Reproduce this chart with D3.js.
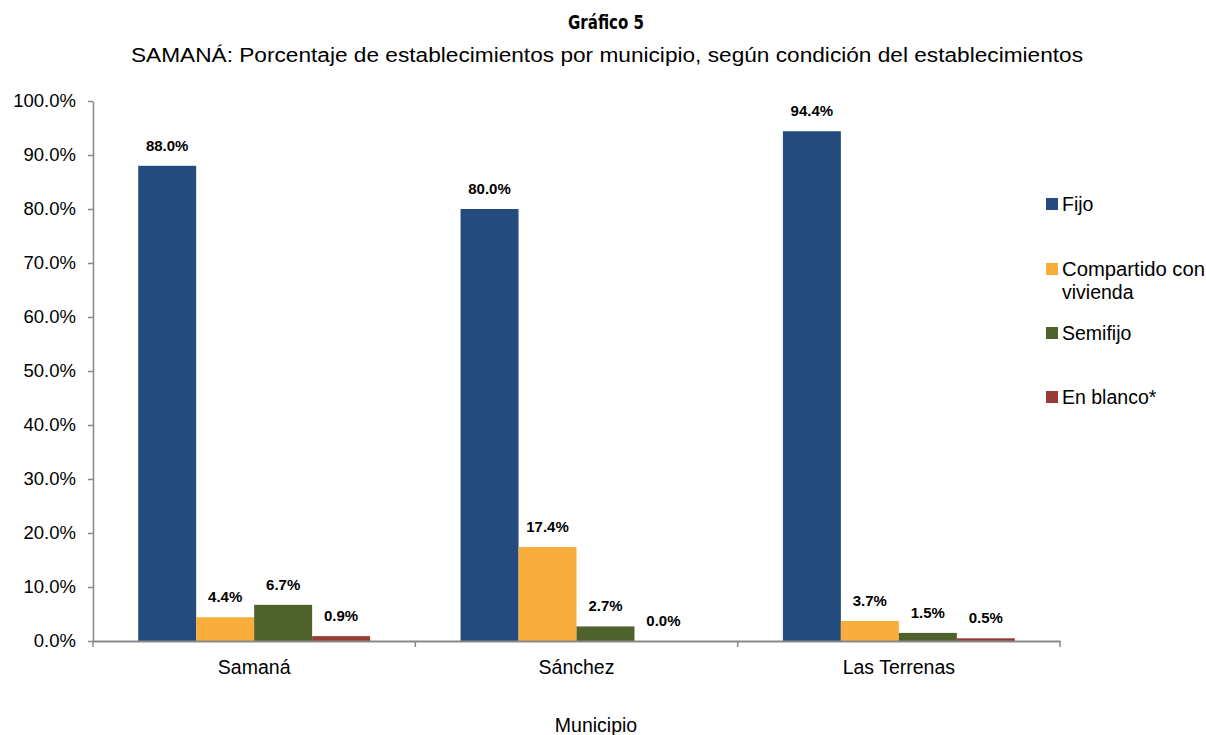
<!DOCTYPE html>
<html><head><meta charset="utf-8">
<script src="https://cdn.jsdelivr.net/npm/d3@7"></script>
<style>body{margin:0;background:#fff}svg{display:block}</style>
</head><body>
<svg id="c" width="1206" height="735"></svg>
<script>
const categories = ["Samaná","Sánchez","Las Terrenas"];
const seriesNames = ["Fijo","Compartido con vivienda","Semifijo","En blanco*"];
const fijo = [88.0, 80.0, 94.4];
const compartido = [4.4, 17.4, 3.7];
const semifijo = [6.7, 2.7, 1.5];
const enBlanco = [0.9, 0.0, 0.5];
const yTicks = [0,10,20,30,40,50,60,70,80,90,100];
const colors = ["#234B7D","#F9AE3B","#50622C","#973B37"];
const series = [fijo, compartido, semifijo, enBlanco];

const svg = d3.select("#c");
const font = "'Liberation Sans', Arial, sans-serif";
const L = 93, R = 1060, T = 101, B = 641;
const x = d3.scaleBand().domain(categories).range([L, R]).paddingInner(0).paddingOuter(0);
const x1 = d3.scaleBand().domain(seriesNames).range([0, x.bandwidth()]).paddingInner(0).paddingOuter(0.78);
const y = d3.scaleLinear().domain([0,100]).range([B, T]);

// title
svg.append("text").attr("x",606).attr("y",29).attr("text-anchor","middle")
  .attr("font-family","'DejaVu Sans Condensed','Liberation Sans Narrow',sans-serif").attr("font-weight","bold").attr("font-size",19)
  .attr("textLength",76).attr("lengthAdjust","spacingAndGlyphs").text("Gráfico 5");
svg.append("text").attr("x",607).attr("y",62).attr("text-anchor","middle")
  .attr("font-family",font).attr("font-size",20).attr("textLength",952).attr("lengthAdjust","spacingAndGlyphs")
  .text("SAMANÁ: Porcentaje de establecimientos por municipio, según condición del establecimientos");

// bars
categories.forEach((c,i)=>{
  series.forEach((s,j)=>{
    const v = s[i];
    svg.append("rect").attr("x", x(c)+x1(seriesNames[j])).attr("y", y(v))
      .attr("width", x1.bandwidth()).attr("height", B - y(v)).attr("fill", colors[j]);
    svg.append("text").attr("x", x(c)+x1(seriesNames[j])+x1.bandwidth()/2)
      .attr("y", y(v) - 15).attr("text-anchor","middle")
      .attr("font-family",font).attr("font-weight","bold").attr("font-size",15).attr("fill","#000")
      .text(v.toFixed(1)+"%");
  });
});

// y axis
const ya = svg.append("g").attr("transform",`translate(${L},0)`)
  .call(d3.axisLeft(y).tickValues(yTicks).tickSize(5).tickSizeOuter(0).tickFormat(d=>d.toFixed(1)+"%"));
ya.select(".domain").attr("stroke","#888").attr("stroke-width",1.5);
ya.selectAll(".tick line").attr("stroke","#888").attr("stroke-width",1.5);
ya.selectAll("text").attr("font-family",font).attr("font-size",18.5).attr("fill","#000").attr("x",-17);

// x axis
const xa = svg.append("g").attr("transform",`translate(0,${B})`)
  .call(d3.axisBottom(x).tickSize(0).tickSizeOuter(0));
xa.select(".domain").attr("stroke","#888").attr("stroke-width",2);
xa.selectAll("text").attr("font-family",font).attr("font-size",19.5).attr("fill","#000").attr("dy",0).attr("y",33);
const bounds = [L].concat(categories.map(c=>x(c)+x.bandwidth()));
svg.append("g").selectAll("line").data(bounds).join("line")
  .attr("x1",d=>d).attr("x2",d=>d).attr("y1",B).attr("y2",B+6).attr("stroke","#888").attr("stroke-width",1.5);

svg.append("text").attr("x",596).attr("y",732).attr("text-anchor","middle")
  .attr("font-family",font).attr("font-size",19.5).text("Municipio");

// legend
const legY = [204, 269, 333, 397];
seriesNames.forEach((n,j)=>{
  svg.append("rect").attr("x",1046).attr("y",legY[j]-6).attr("width",12).attr("height",12).attr("fill",colors[j]);
  const t = svg.append("text").attr("x",1062).attr("y",legY[j]+7).attr("font-family",font).attr("font-size",19.5);
  if (n === "Compartido con vivienda") {
    t.append("tspan").attr("x",1062).attr("textLength",143).attr("lengthAdjust","spacingAndGlyphs").text("Compartido con");
    t.append("tspan").attr("x",1062).attr("dy",23).text("vivienda");
  } else t.text(n);
});
</script>
</body></html>
